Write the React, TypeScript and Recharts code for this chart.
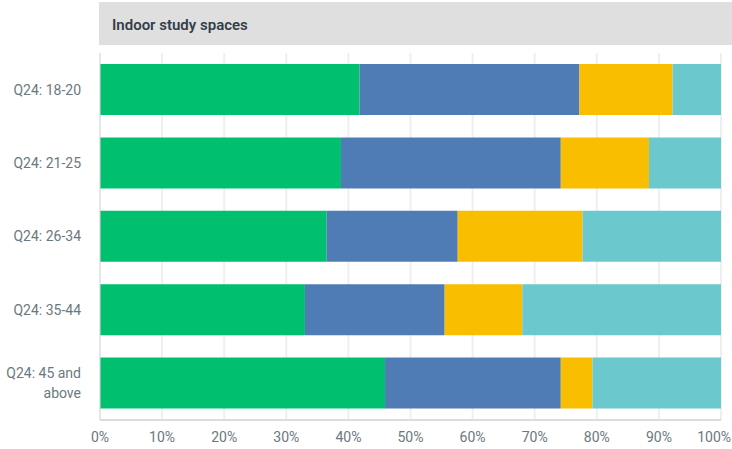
import { BarChart, Bar, XAxis, YAxis, CartesianGrid } from "recharts";

const categories = ["Q24: 18-20", "Q24: 21-25", "Q24: 26-34", "Q24: 35-44", "Q24: 45 and above"];
const s1 = [41.8, 38.8, 36.5, 33.0, 45.9];
const s2 = [35.4, 35.4, 21.1, 22.5, 28.3];
const s3 = [15.0, 14.2, 20.1, 12.5, 5.1];
const s4 = [7.8, 11.6, 22.3, 32.0, 20.7];
const xTicks = [0, 10, 20, 30, 40, 50, 60, 70, 80, 90, 100];

const colors = ["#00BF6F", "#507CB6", "#F9BE00", "#6BC8CD"];
const keys = ["s1", "s2", "s3", "s4"];

const data = categories.map((name, i) => ({ name, s1: s1[i], s2: s2[i], s3: s3[i], s4: s4[i] }));

const font = "Roboto, 'Open Sans', sans-serif";
const tickColor = "#6b7880";

function wrap(label: string, max: number) {
  const words = label.split(" ");
  const lines: string[] = [];
  let cur = "";
  for (const w of words) {
    const next = cur ? cur + " " + w : w;
    if (next.length > max && cur) {
      lines.push(cur);
      cur = w;
    } else cur = next;
  }
  if (cur) lines.push(cur);
  return lines;
}

const YTick = ({ x, y, payload }: any) => {
  const lines = wrap(payload.value, 11);
  const lh = 20;
  const start = y - ((lines.length - 1) * lh) / 2;
  return (
    <text x={x - 11} textAnchor="end" fill={tickColor} fontSize={14} fontFamily={font}>
      {lines.map((l, i) => (
        <tspan key={i} x={x - 11} y={start + i * lh} dy="0.35em">{l}</tspan>
      ))}
    </text>
  );
};

// last label is pushed in so it stays inside the picture
const XTick = ({ x, y, payload }: any) => {
  const last = payload.value === 100;
  return (
    <text
      x={last ? 731 : x}
      y={y}
      dy="0.71em"
      textAnchor={last ? "end" : "middle"}
      fill={tickColor}
      fontSize={14}
      fontFamily={font}
    >
      {`${payload.value}%`}
    </text>
  );
};

export default function App() {
  return (
    <div style={{ position: "absolute", left: 0, top: 0, width: 732, height: 449, background: "#fff" }}>
      <div
        style={{
          position: "absolute", left: 99, top: 2, width: 633, height: 43, background: "#DFDFDF",
          fontFamily: font, fontWeight: 600, fontSize: 15, color: "#333e48",
          display: "flex", alignItems: "center", paddingLeft: 13, paddingTop: 2, boxSizing: "border-box",
        }}
      >
        Indoor study spaces
      </div>
      <BarChart
        width={732}
        height={449}
        data={data}
        layout="vertical"
        margin={{ top: 53, right: 11, bottom: 0, left: 0 }}
        barCategoryGap={11}
      >
        <CartesianGrid horizontal={false} stroke="#efefef" strokeWidth={2} />
        <XAxis
          type="number"
          domain={[0, 100]}
          ticks={xTicks}
          axisLine={{ stroke: "#dcdcdc", strokeWidth: 2 }}
          tickLine={false}
          height={29}
          tick={<XTick />}
          tickMargin={6}
          interval={0}
        />
        <YAxis
          type="category"
          dataKey="name"
          width={100}
          axisLine={{ stroke: "#dcdcdc", strokeWidth: 1 }}
          tickLine={false}
          tick={<YTick />}
          interval={0}
        />
        {keys.map((k, i) => (
          <Bar key={k} dataKey={k} stackId="a" fill={colors[i]} isAnimationActive={false} />
        ))}
      </BarChart>
    </div>
  );
}
